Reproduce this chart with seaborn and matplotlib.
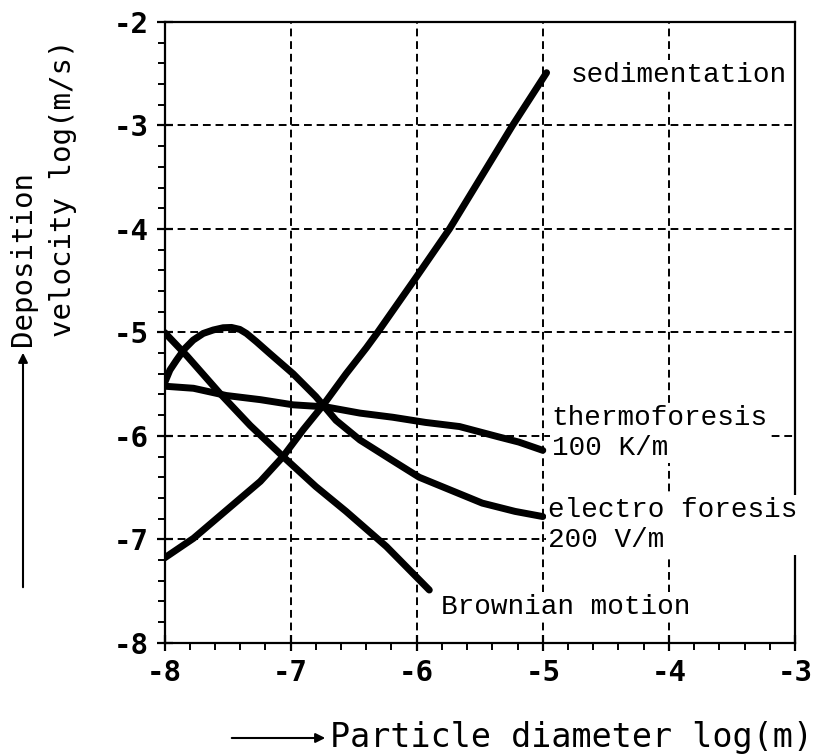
import numpy as np
import pandas as pd
import matplotlib
matplotlib.use("Agg")
import matplotlib.pyplot as plt
import seaborn as sns
from matplotlib.ticker import MultipleLocator

# ---- data (log10 particle diameter [m] vs log10 deposition velocity [m/s]) ----
sed_x = [-8.0, -7.77, -7.51, -7.24, -7.06, -6.90, -6.74, -6.56, -6.40, -6.31, -6.0, -5.74, -5.48, -5.24, -4.97]
sed_y = [-7.18, -6.99, -6.72, -6.44, -6.20, -5.94, -5.70, -5.40, -5.15, -5.0, -4.46, -4.0, -3.48, -3.0, -2.49]

brown_x = [-8.0, -7.82, -7.56, -7.32, -7.06, -6.80, -6.56, -6.24, -5.90]
brown_y = [-5.0, -5.23, -5.59, -5.90, -6.20, -6.49, -6.73, -7.07, -7.49]

elec_x = [-8.0, -7.957, -7.904, -7.838, -7.772, -7.693, -7.614, -7.535, -7.469, -7.403, -7.35, -7.271,
          -7.166, -6.98, -6.80, -6.64, -6.45, -6.19, -5.98, -5.74, -5.48, -5.22, -5.0]
elec_y = [-5.49, -5.364, -5.267, -5.155, -5.074, -5.010, -4.977, -4.955, -4.952, -4.971, -5.01, -5.09,
          -5.203, -5.40, -5.62, -5.85, -6.04, -6.24, -6.40, -6.52, -6.65, -6.73, -6.78]

therm_x = [-8.0, -7.77, -7.51, -7.24, -6.98, -6.72, -6.45, -6.19, -5.93, -5.66, -5.35, -5.19, -5.0]
therm_y = [-5.52, -5.54, -5.61, -5.65, -5.70, -5.72, -5.78, -5.82, -5.87, -5.91, -6.01, -6.06, -6.14]

labels = ["sedimentation", "thermoforesis\n100 K/m", "electro foresis\n200 V/m", "Brownian motion"]
label_x = [-4.78, -4.93, -4.96, -5.81]
label_y = [-2.51, -5.97, -6.86, -7.65]

xticks = [-8, -7, -6, -5, -4, -3]
yticks = [-8, -7, -6, -5, -4, -3, -2]

# ---- style ----
sns.set_theme(style="white")
plt.rcParams["axes.unicode_minus"] = False
plt.rcParams["font.family"] = ["DejaVu Sans Mono", "DejaVu Sans"]

fig = plt.figure(figsize=(8.23, 7.54), dpi=100)
ax = fig.add_axes([164.5 / 823, 1 - 642.8 / 754, (795 - 164.5) / 823, (642.8 - 22) / 754])

curves = [(sed_x, sed_y), (brown_x, brown_y), (elec_x, elec_y), (therm_x, therm_y)]
for cx, cy in curves:
    df = pd.DataFrame({"x": cx, "y": cy})
    sns.lineplot(data=df, x="x", y="y", ax=ax, color="black", lw=5.0,
                 estimator=None, sort=False, solid_capstyle="round",
                 solid_joinstyle="round", zorder=3)

ax.set_xlim(-8, -3)
ax.set_ylim(-8, -2)
ax.set_xticks(xticks)
ax.set_yticks(yticks)
ax.set_xticklabels([str(t) for t in xticks])
ax.set_yticklabels([str(t) for t in yticks])
ax.xaxis.set_minor_locator(MultipleLocator(0.2))
ax.yaxis.set_minor_locator(MultipleLocator(0.2))
ax.set_xlabel("")
ax.set_ylabel("")

for s in ax.spines.values():
    s.set_color("black")
    s.set_linewidth(1.6)

ax.tick_params(which="major", direction="inout", length=11, width=1.6,
               color="black", labelsize=21, pad=6, labelcolor="black")
ax.tick_params(which="minor", direction="out", length=5, width=1.4, color="black")
ax.tick_params(axis="both", which="both", bottom=True, left=True, top=False, right=False)
for lab in ax.get_xticklabels() + ax.get_yticklabels():
    lab.set_fontweight("bold")

# dashed grid
for gx in [-7, -6, -5, -4]:
    ax.axvline(gx, color="black", lw=1.4, dashes=(4, 2.5), zorder=1)
for gy in [-7, -6, -5, -4, -3]:
    ax.axhline(gy, color="black", lw=1.4, dashes=(4, 2.5), zorder=1)

# curve labels
for t, lx, ly in zip(labels, label_x, label_y):
    ax.text(lx, ly, t, ha="left", va="center", fontsize=20,
            family=["Liberation Mono", "DejaVu Sans Mono"], color="black",
            linespacing=1.2, zorder=4,
            bbox=dict(facecolor="white", edgecolor="none", pad=1.5))

# axis labels with arrows
fig.text(330 / 823, 1 - 738 / 754, "Particle diameter log(m)", ha="left", va="center",
         fontsize=24, color="black")
ax.annotate("", xy=(328 / 823, 1 - 738 / 754), xytext=(229 / 823, 1 - 738 / 754),
            xycoords="figure fraction", textcoords="figure fraction",
            arrowprops=dict(arrowstyle="-|>", color="black", lw=1.5, mutation_scale=14))

fig.text(23 / 823, 1 - 258 / 754, "Deposition", ha="center", va="center",
         rotation=90, fontsize=21, color="black")
fig.text(63 / 823, 1 - 188 / 754, "velocity log(m/s)", ha="center", va="center",
         rotation=90, fontsize=21, color="black")
ax.annotate("", xy=(23 / 823, 1 - 350 / 754), xytext=(23 / 823, 1 - 590 / 754),
            xycoords="figure fraction", textcoords="figure fraction",
            arrowprops=dict(arrowstyle="-|>", color="black", lw=1.5, mutation_scale=14))

fig.savefig("out.png", dpi=100, facecolor="white")
